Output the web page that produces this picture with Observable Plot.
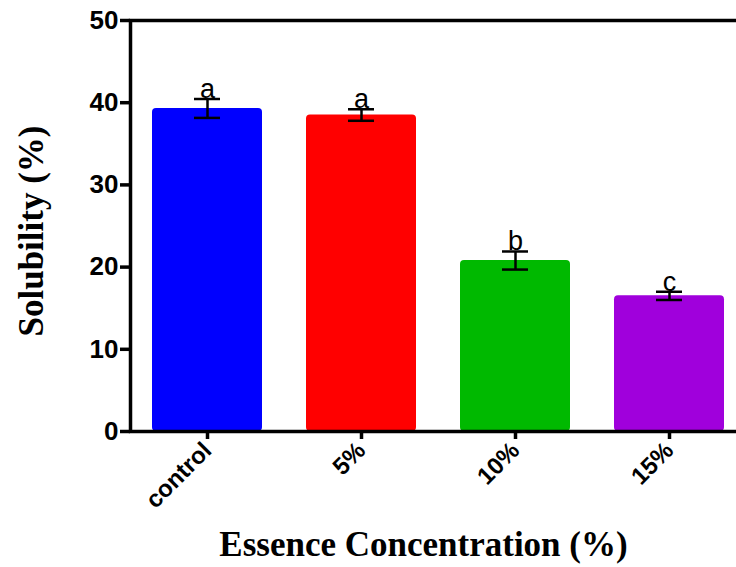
<!DOCTYPE html>
<html>
<head>
<meta charset="utf-8">
<script src="https://cdn.jsdelivr.net/npm/d3@7"></script>
<script src="https://cdn.jsdelivr.net/npm/@observablehq/plot@0.6"></script>
<style>
  html, body { margin: 0; padding: 0; background: #fff; overflow: hidden; }
</style>
</head>
<body>
<div id="chart"></div>
<script>
const categories = ["control", "5%", "10%", "15%"];
const means = [39.3, 38.5, 20.8, 16.5];
const errors = [1.15, 0.7, 1.1, 0.5];
const letters = ["a", "a", "b", "c"];
const colors = ["#0000ff", "#ff0000", "#00b900", "#a000dc"];
const yTicks = [0, 10, 20, 30, 40, 50];

const data = categories.map((c, i) => ({
  cat: c, mean: means[i], lo: means[i] - errors[i], hi: means[i] + errors[i], letter: letters[i]
}));

const sans = "'Liberation Sans', Arial, sans-serif";
const serif = "'Liberation Serif', 'Times New Roman', serif";

const chart = Plot.plot({
  width: 736,
  height: 567,
  marginLeft: 130,
  marginRight: -4,
  marginTop: 20,
  marginBottom: 136,
  style: { background: "#fff", overflow: "visible" },
  x: { domain: categories, range: [130, 746], paddingInner: 0.286, paddingOuter: 0.143, axis: null },
  y: { domain: [0, 50], axis: null },
  color: { domain: categories, range: colors },
  marks: [
    Plot.barY(data, { x: "cat", y: "mean", fill: "cat", rx: 4 }),
    Plot.ruleX(data, { x: "cat", y1: "lo", y2: "hi", stroke: "#000", strokeWidth: 2.5 }),
    Plot.tickY(data, { x: "cat", y: "lo", stroke: "#000", strokeWidth: 2.5, insetLeft: 42, insetRight: 42 }),
    Plot.tickY(data, { x: "cat", y: "hi", stroke: "#000", strokeWidth: 2.5, insetLeft: 42, insetRight: 42 }),
    Plot.text(data, { x: "cat", y: "hi", text: "letter", lineAnchor: "bottom", dy: -1, fontSize: 27, fontFamily: sans, fill: "#000" }),
    Plot.frame({ stroke: "#000", strokeWidth: 3.5 }),
    Plot.axisY({ ticks: yTicks, tickSize: 10, tickPadding: 2, strokeWidth: 3.5, fontSize: 26, fontWeight: "bold", fontFamily: sans, color: "#000", label: null }),
    Plot.axisX({ tickSize: 8, strokeWidth: 3.5, tickRotate: -45, tickPadding: 7, fontSize: 24, fontWeight: "bold", fontFamily: sans, color: "#000", label: null, textAnchor: "end" }),
    Plot.text(["Essence Concentration (%)"], { frameAnchor: "bottom", dy: 124, dx: -12, fontSize: 35, fontWeight: "bold", fontFamily: serif, fill: "#000", lineAnchor: "bottom" }),
    Plot.text(["Solubility (%)"], { frameAnchor: "left", dx: -99, dy: 5, rotate: -90, textAnchor: "middle", fontSize: 35, fontWeight: "bold", fontFamily: serif, fill: "#000" })
  ]
});
document.getElementById("chart").appendChild(chart);
</script>
</body>
</html>
